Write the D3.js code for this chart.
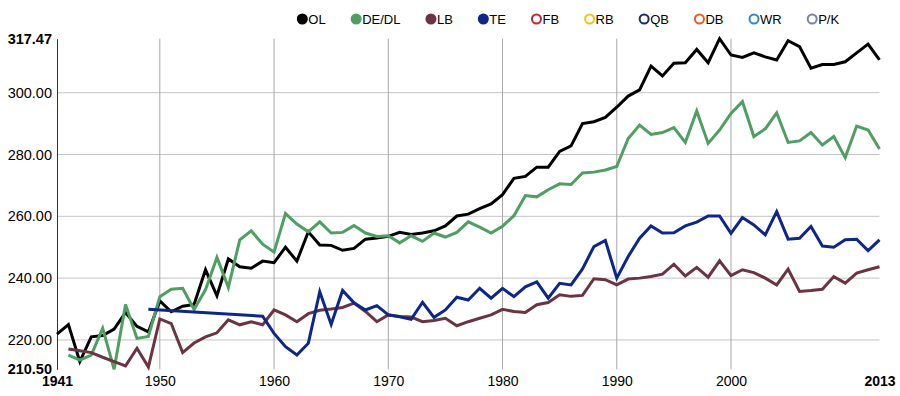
<!DOCTYPE html>
<html lang="en">
<head>
<meta charset="UTF-8">
<title>Average weight by position</title>
<script src="https://d3js.org/d3.v7.min.js"></script>
<style>
  body { margin: 0; background: #fff; }
  svg { display: block; font-family: "Liberation Sans", Arial, Helvetica, sans-serif; }
</style>
</head>
<body>
<svg width="900" height="396"></svg>
<script>
const years = d3.range(1941, 2014);
const positions = ["OL", "DE/DL", "LB", "TE", "FB", "RB", "QB", "DB", "WR", "P/K"];
const colors = ["#000000", "#4f9e62", "#6b3442", "#0d2688", "#c4272f", "#f5c116", "#1c2b6b", "#f0572a", "#2a8ad6", "#7a8596"];
const yTicks = [210.5, 220, 240, 260, 280, 300, 317.47];
const xTicks = [1941, 1950, 1960, 1970, 1980, 1990, 2000, 2013];

// one value per year, 1941..2013 (null = no data)
const olWeight = [
  221.9, 225.0, 213.0, 221.0, 221.4, 223.5, 228.9, 224.4, 222.6, 232.6,
  229.1, 230.9, 231.5, 242.7, 234.3, 246.2, 243.7, 243.2, 245.5, 245.0,
  250.0, 245.5, 255.0, 250.7, 250.6, 249.0, 249.6, 252.6, 253.0, 253.5,
  254.8, 254.1, 254.6, 255.3, 256.9, 260.1, 260.7, 262.5, 264.0, 267.0,
  272.3, 272.9, 275.9, 275.9, 281.0, 282.8, 290.0, 290.6, 292.0, 295.3,
  298.9, 300.9, 308.6, 305.4, 309.5, 309.7, 314.0, 309.7, 317.47, 312.2,
  311.4, 312.9, 311.6, 310.6, 316.8, 314.9, 307.9, 309.1, 309.1, 310.0,
  312.9, 315.7, 310.6
];
const dlWeight = [
  null, 215.1, 213.5, 215.1, 223.8, 210.5, 231.5, 220.5, 221.1, 234.0,
  236.4, 236.7, 229.9, 236.2, 246.7, 237.0, 252.4, 255.3, 251.0, 248.4,
  260.9, 257.5, 255.0, 258.2, 254.6, 254.8, 257.0, 254.6, 253.5, 253.7,
  251.4, 253.7, 251.9, 254.6, 253.3, 254.8, 258.2, 256.5, 254.6, 256.8,
  260.2, 266.7, 266.3, 268.6, 270.5, 270.3, 274.0, 274.3, 275.0, 276.1,
  285.2, 289.5, 286.5, 287.1, 288.7, 283.9, 294.1, 283.6, 287.9, 293.3,
  297.1, 285.8, 288.3, 293.5, 283.9, 284.4, 287.1, 283.1, 285.8, 279.0,
  289.2, 287.9, 281.8
];
const lbWeight = [
  null, 217.1, 216.5, 215.9, 214.4, 213.0, 211.6, 217.3, 211.2, 226.8,
  225.3, 215.9, 219.0, 221.0, 222.3, 226.5, 224.9, 225.9, 224.9, 229.7,
  228.1, 225.9, 228.5, 229.6, 230.0, 230.5, 231.9, 229.2, 225.9, 228.1,
  227.6, 227.4, 225.9, 226.3, 227.0, 224.6, 225.9, 227.0, 228.1, 229.9,
  229.2, 228.9, 231.4, 232.1, 234.6, 234.1, 234.4, 239.8, 239.5, 237.8,
  239.7, 240.0, 240.5, 241.3, 244.5, 240.7, 243.5, 240.3, 245.6, 240.8,
  242.7, 241.8, 240.0, 237.8, 242.9, 235.7, 236.0, 236.4, 240.5, 238.4,
  241.6, 242.7, 243.7
];
const teWeight = [
  null, null, null, null, null, null, null, null, 229.9, null,
  null, null, null, null, null, null, null, null, 227.7, 222.1,
  217.8, 215.1, 218.9, 235.6, 225.0, 236.0, 232.0, 229.7, 231.1, 228.1,
  227.5, 226.7, 232.2, 227.3, 229.7, 233.8, 232.9, 236.7, 233.5, 236.7,
  234.0, 237.2, 238.8, 233.5, 238.3, 237.8, 243.0, 250.2, 252.2, 240.0,
  247.0, 252.9, 256.9, 254.6, 254.7, 256.9, 258.1, 260.1, 260.1, 254.5,
  259.6, 257.2, 254.0, 261.5, 252.6, 252.9, 256.7, 250.4, 250.0, 252.4,
  252.6, 248.9, 252.4
];

const seriesValues = [olWeight, dlWeight, lbWeight, teWeight];

const svg = d3.select("svg");

const x = d3.scaleLinear().domain([1941, 2013]).range([57, 879.5]);
const y = d3.scaleLinear().domain([210.5, 317.47]).range([369.3, 38.7]);

// grid
svg.append("g")
  .selectAll("line")
  .data(yTicks.slice(1, -1))
  .join("line")
  .attr("x1", x(1941)).attr("x2", x(2013))
  .attr("y1", d => y(d)).attr("y2", d => y(d))
  .attr("stroke", "#c4c4c4")
  .attr("stroke-width", 1);

svg.append("g")
  .selectAll("line")
  .data(xTicks.slice(1, -1))
  .join("line")
  .attr("x1", d => x(d)).attr("x2", d => x(d))
  .attr("y1", y(317.47)).attr("y2", y(210.5))
  .attr("stroke", "#a8a8a8")
  .attr("stroke-width", 1);

// y axis
const yAxis = svg.append("g")
  .attr("transform", `translate(${x(1941)},0)`)
  .call(d3.axisLeft(y).tickValues(yTicks).tickFormat(d3.format(".2f")).tickSize(0).tickPadding(5));
yAxis.select(".domain").attr("stroke", "#333");
yAxis.selectAll("text")
  .attr("font-size", 14.5)
  .attr("fill", "#000")
  .attr("font-family", null)
  .attr("font-weight", (d, i) => (i === 0 || i === yTicks.length - 1) ? "bold" : "normal");

// x axis
const xAxis = svg.append("g")
  .attr("transform", `translate(0,${y(210.5)})`)
  .call(d3.axisBottom(x).tickValues(xTicks).tickFormat(d3.format("d")).tickSize(0).tickPadding(7));
xAxis.select(".domain").remove();
xAxis.selectAll("text")
  .attr("font-size", 14)
  .attr("fill", "#000")
  .attr("font-family", null)
  .attr("font-weight", (d, i) => (i === 0 || i === xTicks.length - 1) ? "bold" : "normal");

// lines
const line = d3.line()
  .x(d => x(d.year))
  .y(d => y(d.value));

seriesValues.forEach((vals, i) => {
  const pts = years.map((yr, j) => ({ year: yr, value: vals[j] })).filter(d => d.value != null);
  svg.append("path")
    .datum(pts)
    .attr("fill", "none")
    .attr("stroke", colors[i])
    .attr("stroke-width", 3)
    .attr("stroke-linejoin", "miter")
    .attr("d", line);
});

// legend
const legend = svg.append("g").attr("font-size", 13);
let cx = 302.3;
positions.forEach((name, i) => {
  const hasData = i < seriesValues.length;
  legend.append("circle")
    .attr("cx", cx).attr("cy", 19).attr("r", hasData ? 5.5 : 4.5)
    .attr("fill", hasData ? colors[i] : "#fff")
    .attr("stroke", colors[i])
    .attr("stroke-width", hasData ? 0 : 2);
  const t = legend.append("text")
    .attr("x", cx + 6)
    .attr("y", 23.5)
    .attr("fill", "#000")
    .text(name);
  cx += 6 + t.node().getComputedTextLength() + 30.5;
});
</script>
</body>
</html>
